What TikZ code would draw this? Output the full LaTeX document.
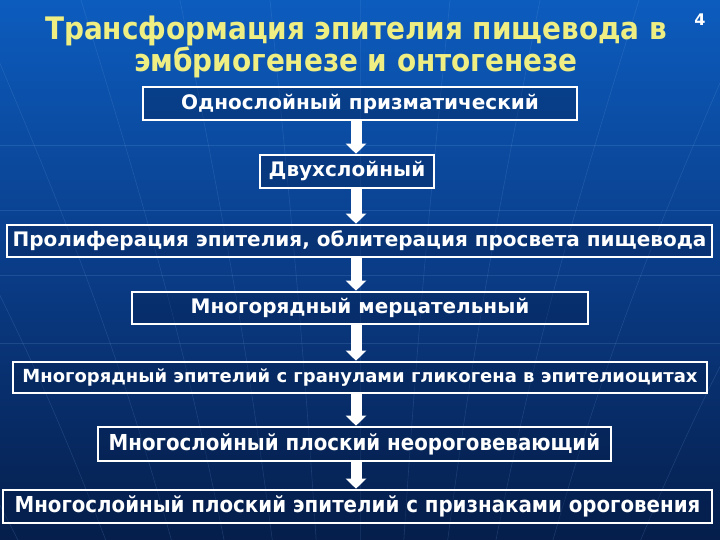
\documentclass[tikz,border=0pt]{standalone}
\usepackage{fontspec}
\setmainfont{DejaVu Sans}
\newfontfamily\condfont{DejaVu Sans Condensed}
\usetikzlibrary{arrows.meta}

\definecolor{bgtop}{RGB}{12,92,190}
\definecolor{bgmid}{RGB}{10,60,135}
\definecolor{bgbot}{RGB}{5,30,75}
\definecolor{titleyellow}{RGB}{238,238,130}
\definecolor{gridblue}{RGB}{120,170,235}

\tikzset{
  stage/.style={draw=white, line width=2.6pt, fill=bgbot, fill opacity=0.35,
    text opacity=1, text=white, inner sep=0pt, font=\bfseries\fontsize{20}{20}\selectfont},
  flow/.style={white, line width=11pt, -{Triangle[width=20pt,length=10pt]}},
  gridline/.style={gridblue, opacity=0.18, line width=0.6pt}
}

\begin{document}
\begin{tikzpicture}[x=1pt,y=-1pt]
  % background
  \useasboundingbox (0,0) rectangle (720,540);
  \shade[top color=bgtop, bottom color=bgbot, middle color=bgmid] (0,0) rectangle (720,540);
  \begin{scope}
    \clip (0,0) rectangle (720,540);
    \foreach \y in {145,210,275,343}
      \draw[gridline] (0,\y) -- (720,\y);
    \foreach \x in {-700,-420,-220,-70,50,160,260,360,460,560,670,800,1000,1300}
      \draw[gridline] (360,1300) .. controls (360+0.5*\x-180,400) .. (\x,-100);
  \end{scope}

  % title
  \node[text=titleyellow, font=\condfont\bfseries\fontsize{31}{31}\selectfont, align=center]
    (title) at (356,47) {Трансформация эпителия пищевода в\\эмбриогенезе и онтогенезе};
  \node[text=white, font=\bfseries\fontsize{16}{16}\selectfont] (pagenum) at (700,20) {4};

  % stages
  \node[stage, minimum width=434pt, minimum height=33pt] (s1) at (360,103.5) {Однослойный призматический};
  \node[stage, minimum width=174pt, minimum height=33pt] (s2) at (347,171.5) {Двухслойный};
  \node[stage, minimum width=705pt, minimum height=32pt] (s3) at (359.5,241) {Пролиферация эпителия, облитерация просвета пищевода};
  \node[stage, minimum width=456pt, minimum height=32pt] (s4) at (360,308) {Многорядный мерцательный};
  \node[stage, minimum width=694pt, minimum height=31pt, font=\bfseries\fontsize{18}{18}\selectfont] (s5) at (360,377.5) {Многорядный эпителий с гранулами гликогена в эпителиоцитах};
  \node[stage, minimum width=513pt, minimum height=34pt, font=\condfont\bfseries\fontsize{22}{22}\selectfont] (s6) at (354.5,444) {Многослойный плоский неороговевающий};
  \node[stage, minimum width=709pt, minimum height=33pt, font=\condfont\bfseries\fontsize{22}{22}\selectfont] (s7) at (357.5,506.5) {Многослойный плоский эпителий с признаками ороговения};

  % arrows
  \coordinate (axis) at (356,0);
  \foreach \a/\b in {s1/s2,s2/s3,s3/s4,s4/s5,s5/s6,s6/s7}
    \draw[flow] (axis |- \a.south) -- (axis |- \b.north);
\end{tikzpicture}
\end{document}
